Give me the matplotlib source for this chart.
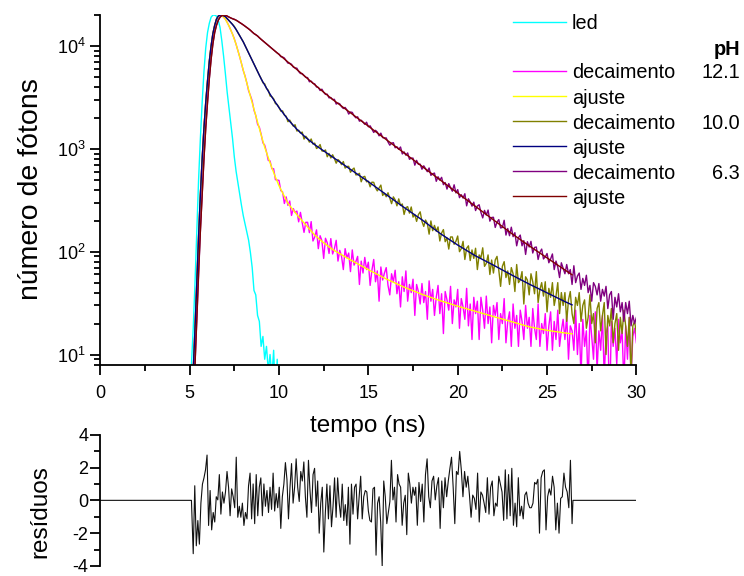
import numpy as np
import matplotlib
matplotlib.use("Agg")
import matplotlib.pyplot as plt
from matplotlib.lines import Line2D
from matplotlib.ticker import MultipleLocator, LogLocator, NullFormatter

plt.rcParams['font.family'] = ['Liberation Sans', 'DejaVu Sans']
plt.rcParams['mathtext.fontset'] = 'custom'
plt.rcParams['mathtext.rm'] = 'Liberation Sans'
plt.rcParams['mathtext.it'] = 'Liberation Sans:italic'
plt.rcParams['axes.unicode_minus'] = False

# ---------------- data (counts, 0.1 ns channels from 5.0 to 30.0 ns) ----------------
led = [3, 8, 18, 50, 158, 501, 1259, 2818, 5623, 9550,
       13490, 16600, 19050, 19950, 19950, 19500, 17780, 15140, 11220, 7943,
       5370, 3548, 2512, 1778, 1259, 832, 603, 468, 363, 282,
       224, 186, 155, 129, 98, 70, 42, 38, 24, 21,
       12, 15, 9, 12, 7, 10, 6, 11, 4, 9,
       2]
led_t0, led_t1 = 5.0, 10.0

decay_121 = [1, 3, 7, 18, 50, 141, 355, 794, 1585, 2818,
             4571, 7079, 10000, 13180, 15850, 18200, 19500, 19950, 19720, 19050,
             18200, 16980, 15670, 14290, 13030, 11750, 10350, 9016, 7852, 6761,
             5760, 5102, 4376, 3660, 3291, 2920, 2372, 2111, 1732, 1624,
             1389, 1142, 1086, 933, 771, 763, 641, 640, 501, 497,
             493, 392, 381, 294, 341, 282, 311, 225, 262, 241,
             248, 195, 241, 191, 154, 193, 193, 153, 196, 127,
             139, 163, 107, 143, 128, 86, 135, 122, 96, 134,
             95, 107, 129, 81, 103, 90, 67, 107, 87, 97,
             64, 104, 74, 80, 90, 48, 81, 62, 88, 67,
             79, 47, 66, 84, 51, 65, 33, 71, 53, 62,
             70, 47, 38, 61, 51, 66, 39, 51, 29, 57,
             41, 65, 33, 48, 40, 54, 24, 48, 41, 31,
             49, 32, 41, 22, 52, 33, 43, 24, 36, 47,
             25, 39, 16, 41, 34, 27, 46, 20, 34, 29,
             43, 18, 35, 29, 22, 44, 19, 31, 14, 36,
             25, 33, 14, 36, 27, 18, 37, 20, 29, 13,
             30, 24, 32, 14, 25, 20, 35, 13, 21, 26,
             12, 31, 18, 24, 12, 27, 21, 14, 30, 18,
             23, 12, 28, 18, 14, 31, 12, 20, 16, 25,
             11, 19, 26, 11, 21, 14, 27, 12, 17, 22,
             14, 24, 9, 19, 17, 11, 27, 10, 20, 6,
             22, 12, 17, 5, 24, 15, 9, 26, 7, 17,
             11, 24, 6, 16, 19, 3, 21, 12, 18, 8,
             22, 13, 17, 5, 19, 9, 23, 6, 15, 18,
             13]

decay_100 = [1, 3, 7, 18, 50, 141, 355, 794, 1585, 2818,
             4571, 7079, 10000, 13180, 15850, 18200, 19500, 19950, 19950, 19650,
             19280, 18450, 17660, 16910, 16180, 15490, 14460, 13490, 12590, 11750,
             10960, 10090, 9290, 8550, 7870, 7244, 6670, 6140, 5650, 5200,
             4838, 4386, 4284, 3862, 3711, 3266, 3208, 3063, 2751, 2698,
             2535, 2325, 2338, 2130, 2074, 1836, 1904, 1773, 1660, 1715,
             1490, 1516, 1422, 1454, 1244, 1326, 1258, 1161, 1246, 1112,
             1136, 1007, 1037, 1100, 954, 946, 975, 837, 901, 815,
             876, 805, 725, 786, 757, 701, 752, 650, 673, 676,
             592, 628, 650, 558, 560, 578, 478, 532, 540, 478,
             484, 427, 474, 472, 418, 390, 416, 444, 352, 370,
             342, 374, 332, 293, 341, 319, 279, 326, 281, 291,
             230, 268, 274, 237, 272, 217, 230, 197, 229, 244,
             197, 176, 203, 189, 148, 199, 160, 180, 158, 174,
             127, 152, 164, 125, 136, 106, 139, 139, 118, 126,
             142, 100, 107, 126, 84, 108, 114, 82, 104, 86,
             108, 67, 93, 87, 109, 72, 77, 93, 60, 83,
             62, 83, 90, 66, 46, 72, 80, 56, 65, 48,
             70, 61, 41, 75, 50, 53, 64, 31, 57, 53,
             38, 61, 51, 39, 64, 32, 43, 50, 37, 51,
             26, 44, 36, 50, 30, 37, 50, 25, 40, 30,
             40, 21, 34, 41, 25, 20, 36, 30, 40, 21,
             30, 34, 18, 23, 38, 20, 25, 13, 28, 32,
             17, 24, 32, 10, 24, 19, 28, 13, 20, 25,
             11, 23, 16, 27, 19, 12, 23, 6, 19, 21,
             16]

decay_63 = [1, 2, 4, 8, 22, 63, 158, 355, 794, 1585,
            2818, 4786, 7413, 10470, 13490, 15850, 17780, 19050, 19720, 19950,
            19950, 19500, 19100, 18700, 18400, 18200, 17800, 17400, 16900, 16500,
            16030, 15600, 15100, 14700, 14200, 13650, 13200, 12900, 12500, 12000,
            11600, 11210, 10840, 10480, 10130, 9790, 9460, 9150, 8840, 8550,
            8323, 7873, 7815, 7636, 7189, 6810, 6789, 6636, 6234, 6109,
            6084, 5645, 5394, 5392, 5167, 4946, 4926, 4486, 4548, 4334,
            4278, 3992, 3953, 3689, 3801, 3550, 3381, 3396, 3128, 3154,
            3013, 3028, 2723, 2785, 2736, 2569, 2465, 2527, 2387, 2177,
            2280, 2260, 2093, 2002, 2049, 1856, 1896, 1820, 1730, 1815,
            1640, 1673, 1554, 1442, 1513, 1456, 1337, 1421, 1284, 1277,
            1276, 1165, 1085, 1136, 1147, 1024, 1047, 989, 1042, 891,
            934, 867, 912, 791, 812, 812, 693, 772, 707, 709,
            633, 684, 642, 599, 651, 552, 572, 581, 483, 535,
            496, 528, 448, 470, 406, 459, 418, 387, 447, 373,
            401, 335, 358, 332, 366, 279, 327, 304, 277, 303,
            251, 278, 286, 241, 213, 252, 227, 254, 198, 215,
            216, 172, 194, 205, 170, 172, 202, 145, 168, 143,
            173, 140, 153, 114, 137, 145, 114, 128, 94, 125,
            111, 126, 97, 110, 111, 84, 99, 106, 85, 89,
            96, 78, 85, 95, 67, 81, 71, 56, 78, 69,
            61, 75, 61, 67, 48, 73, 50, 58, 62, 43,
            55, 47, 59, 40, 47, 33, 50, 46, 38, 49,
            33, 43, 37, 46, 28, 38, 41, 22, 36, 29,
            39, 26, 32, 21, 32, 25, 33, 19, 24, 20,
            23]
decay_t0, decay_t1 = 5.0, 30.0

# fitted curves (read at these times)
fit_t = [5.2, 5.3, 5.4, 5.5, 5.6, 5.7, 5.8, 5.9, 6.0, 6.1, 6.2, 6.3, 6.4, 6.5,
         6.6, 6.7, 6.8, 6.9, 7.0, 7.2, 7.4, 7.6, 7.8, 8.0, 8.2, 8.4, 8.6, 8.8,
         9.0, 9.2, 9.4, 9.6, 9.8, 10.0, 10.5, 11, 11.5, 12, 12.5, 13, 14, 15,
         16, 17, 18, 19, 20, 21, 22, 23, 24, 25, 26, 26.4]
fit_121 = [7, 18, 50, 141, 355, 794, 1585, 2818, 4571, 7079, 10000, 13180, 15850, 18200,
           19500, 19950, 19720, 19050, 18200, 15670, 13030, 10350, 7852, 5821, 4365, 3236, 2427, 1820,
           1365, 1035, 822, 653, 531, 437, 295, 229, 182, 145, 122, 105, 83.2, 66.8,
           54.3, 45.2, 38.5, 33.5, 29.5, 26.3, 23.4, 20.9, 18.6, 17.2, 16.2, 15.9]
fit_100 = [7, 18, 50, 141, 355, 794, 1585, 2818, 4571, 7079, 10000, 13180, 15850, 18200,
           19500, 19950, 19950, 19650, 19280, 17660, 16180, 14460, 12590, 10960, 9290, 7870, 6670, 5650,
           4786, 4168, 3630, 3191, 2831, 2512, 1928, 1549, 1288, 1096, 955, 832, 631, 479,
           359, 269, 204, 151, 116, 91, 74, 59.6, 48.4, 39.8, 32.7, 30.4]
fit_63 = [4, 8, 22, 63, 158, 355, 794, 1585, 2818, 4786, 7413, 10470, 13490, 15850,
          17780, 19050, 19720, 19950, 19950, 19100, 18400, 17800, 16900, 16030, 15100, 14200, 13200, 12500,
          11600, 10840, 10130, 9460, 8840, 8270, 6980, 5900, 4980, 4200, 3550, 3020, 2240, 1660,
          1230, 912, 676, 501, 371, 275, 204, 151, 114, 87, 66.4, 59.6]

# residuals (two read-off stretches)
res_a = [-3.25, 0.89, -2.77, -1.23, -2.67, -0.17, 0.99, 1.37, 1.86, 2.76,
         -1.53, 0.60, -1.80, -0.74, -1.32, 0.22, 0.03, 1.57, -0.84, 0.51,
         -0.17, 0.51, 1.76, 0.80, -0.94, 0.70, 0.22, -0.45, 2.63, -1.03,
         -0.36, -1.03, -0.17, -1.53, -0.74, -1.13, 0.89, 1.66, -1.13, 1.00,
         -1.42, 1.57, -0.94, 0.80, 1.37, -0.94, 1.00, -0.36, 0.60, -0.74,
         0.80, -0.55, 1.66, -0.65, 0.41, -0.45, 0.80, -1.71, 0.22, 0.99,
         2.30, 1.28, -1.13, 0.80, 2.24, -0.17, 0.80, 2.53, 0.80, -0.07,
         1.76, 1.18, 2.34, 0.22, -1.03, 2.44, 0.60, -0.74, 1.57, 1.95,
         -0.36, 1.18, -2.00, -0.17, 0.80, -3.15, -0.74, 0.99, -1.13, 0.89,
         -1.61, -0.36, 1.37, -1.03, 1.37, -0.17, -1.03, 0.99, -1.23, -0.26,
         -1.53, 0.80, -2.67, 0.99, -0.84, 0.80, 0.99, -1.13, 0.22, 1.47,
         -1.13, 0.22, 0.60, 0.51, -0.65, -1.23, -1.32, 0.70, 0.80, -3.34,
         -0.17, 0.22, -1.32, -4.00, 1.18, 0.22, -1.42, -0.74, -0.07, 2.44,
         0.03, 0.80, -1.32, 1.57, 0.99, 0.80, -1.52, -0.17, 0.31, -2.09,
         1.66, 0.99, -0.17, 0.80, 0.31]
res_a_t0, res_a_t1 = 5.2, 17.58
res_b = [0.80, -1.52, 1.09, -0.07, 0.99, -1.32, 1.57, 2.53, 0.22, -0.45,
         1.18, 1.47, 0.03, 0.89, 1.38, -1.71, 1.18, -0.45, 1.38, 0.22,
         1.18, 1.95, 2.63, 0.80, -1.42, 1.76, 1.57, 2.98, 1.86, 0.22,
         1.76, 0.80, 1.47, 0.32, -1.03, 0.32, 0.12, -0.55, 1.66, -1.32,
         0.51, 0.32, -0.17, -0.74, 1.38, -0.84, 0.80, 1.18, -0.94, -0.17,
         -0.36, 1.47, 0.99, 0.51, -1.22, 1.86, -1.13, 1.57, -0.94, 1.95,
         -1.52, -0.17, -1.61, 1.38, -0.94, -0.36, -1.13, 0.32, 0.51, -0.17,
         -0.45, -0.45, -0.17, 1.09, 0.99, 1.28, -2.00, 1.38, 1.76, 1.86,
         -1.80, 0.22, 0.70, 0.32, 1.47, 0.80, -1.80, -0.17, -2.00, 0.12,
         0.22, 1.66, 0.80, 0.51, -0.45, 2.44, -1.42]
res_b_t0, res_b_t1 = 17.65, 26.4

legend_labels = ['led', 'decaimento', 'ajuste', 'decaimento', 'ajuste', 'decaimento', 'ajuste']
ph_labels = ['12.1', '10.0', '6.3']
x_ticks = [0, 5, 10, 15, 20, 25, 30]
res_ticks = [-4, -2, 0, 2, 4]

# ---------------- styles ----------------
c_led = '#00FFFF'
c_d121, c_f121 = '#FF00FF', '#FFFF00'
c_d100, c_f100 = '#808000', '#000080'
c_d63, c_f63 = '#800080', '#800000'
LW = 1.0
FS_TICK = 13
FS_LAB = 17.5
FS_YLAB = 20.5
FS_LEG = 14.3

W, H = 744, 576
fig = plt.figure(figsize=(W / 100, H / 100), dpi=100)

def fx(px):
    return px / W

def fy(py):
    return 1 - py / H

ax = fig.add_axes([fx(100.3), fy(364.5), (636.4 - 100.3) / W, (364.5 - 15) / H])
axr = fig.add_axes([fx(100.3), fy(566.0), (636.4 - 100.3) / W, (566.0 - 434.7) / H])

t_led = np.linspace(led_t0, led_t1, len(led))
t_dec = np.linspace(decay_t0, decay_t1, len(decay_63))

ax.plot(t_led, led, color=c_led, lw=LW)
ax.plot(t_dec, decay_121, color=c_d121, lw=LW)
ax.plot(fit_t, fit_121, color=c_f121, lw=LW)
ax.plot(t_dec, decay_100, color=c_d100, lw=LW)
ax.plot(fit_t, fit_100, color=c_f100, lw=LW)
ax.plot(t_dec, decay_63, color=c_d63, lw=LW)
ax.plot(fit_t, fit_63, color=c_f63, lw=LW)

ax.set_yscale('log')
ax.set_xlim(0, 30)
ax.set_ylim(8, 2e4)
ax.set_xticks(x_ticks)
ax.xaxis.set_minor_locator(MultipleLocator(2.5))
ax.yaxis.set_major_locator(LogLocator(base=10))
ax.yaxis.set_minor_locator(LogLocator(base=10, subs=np.arange(2, 10)))
ax.yaxis.set_minor_formatter(NullFormatter())
for s in ['top', 'right']:
    ax.spines[s].set_visible(False)
for s in ['left', 'bottom']:
    ax.spines[s].set_linewidth(1.3)
ax.tick_params(which='major', direction='out', length=7, width=1.3, labelsize=FS_TICK)
ax.tick_params(which='minor', direction='out', length=4, width=1.3)
ax.tick_params(axis='x', which='major', pad=8)
ax.tick_params(axis='y', which='major', pad=3.5)

# residuals
rt = np.concatenate([[0, 5.1],
                     np.linspace(res_a_t0, res_a_t1, len(res_a)),
                     np.linspace(res_b_t0, res_b_t1, len(res_b)),
                     [26.45, 30]])
rv = np.concatenate([[0, 0], res_a, res_b, [0, 0]])
axr.plot(rt, rv, color='#111111', lw=0.8)
axr.set_xlim(0, 30)
axr.set_ylim(-4, 4)
axr.set_yticks(res_ticks)
axr.yaxis.set_minor_locator(MultipleLocator(1))
for s in ['top', 'right', 'bottom']:
    axr.spines[s].set_visible(False)
axr.spines['left'].set_linewidth(1.3)
axr.set_xticks([])
axr.tick_params(axis='y', which='major', direction='out', length=7, width=1.3,
                labelsize=FS_TICK, pad=1.5)
axr.tick_params(axis='y', which='minor', direction='out', length=4, width=1.3)
axr.patch.set_alpha(0)

# axis titles
fig.text(fx(31), fy(189), 'número de fótons', rotation=90, ha='center', va='center', fontsize=FS_YLAB)
fig.text(fx(368), fy(426), 'tempo (ns)', ha='center', va='center', fontsize=FS_LAB)
fig.text(fx(40), fy(512), 'resíduos', rotation=90, ha='center', va='center', fontsize=FS_LAB)

# legend
leg_colors = [c_led, c_d121, c_f121, c_d100, c_f100, c_d63, c_f63]
leg_rows = [21.7, 71.0, 96.3, 121.3, 146.3, 171.3, 196.3]
for lab, col, yy in zip(legend_labels, leg_colors, leg_rows):
    fig.add_artist(Line2D([fx(513.3), fx(565.7)], [fy(yy), fy(yy)], color=col, lw=LW))
    fig.text(fx(571.7), fy(yy + 7.5), lab, ha='left', va='baseline', fontsize=FS_LEG)
fig.text(fx(740), fy(55), 'pH', ha='right', va='baseline', fontsize=FS_LEG, fontweight='bold')
for lab, yy in zip(ph_labels, [leg_rows[1], leg_rows[3], leg_rows[5]]):
    fig.text(fx(740), fy(yy + 7.5), lab, ha='right', va='baseline', fontsize=FS_LEG)

fig.savefig('out.png', dpi=100)
